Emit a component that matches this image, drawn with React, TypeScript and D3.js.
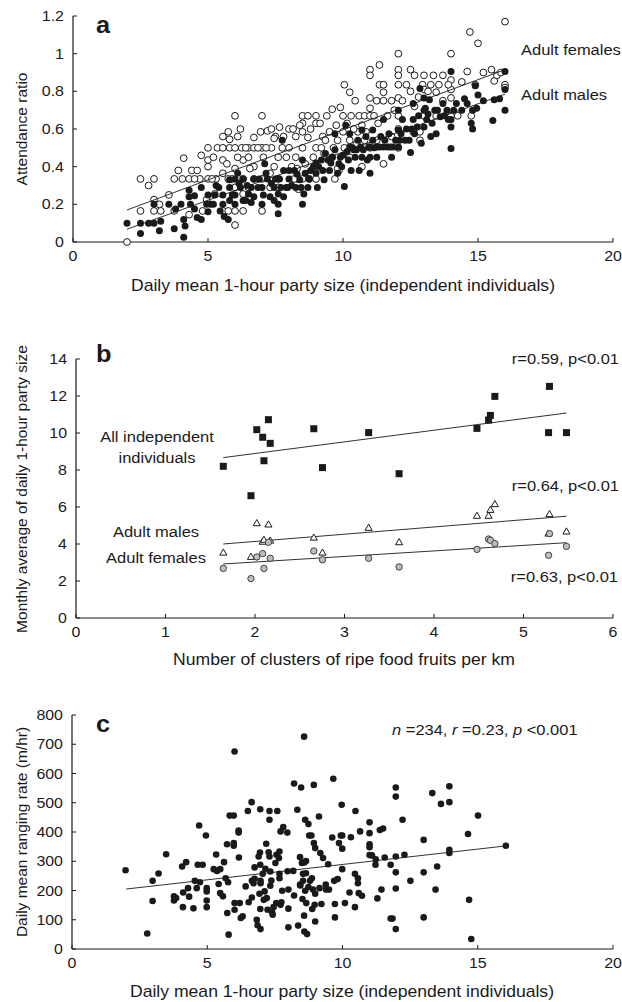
import React from 'react';
import * as d3 from 'd3';

// ---- panel a: attendance ratio vs party size ----
const femalesA: [number, number][] = [
  [2.0, 0.0], [2.5, 0.335], [2.8, 0.3], [3.0, 0.335], [3.0, 0.225], [3.0, 0.165], [2.5, 0.165], [3.25, 0.165],
  [3.2, 0.2], [3.55, 0.25], [3.75, 0.335], [3.9, 0.38], [4.1, 0.445], [4.05, 0.335], [4.3, 0.335], [4.4, 0.38],
  [4.3, 0.145], [4.6, 0.38], [4.7, 0.335], [4.75, 0.46], [5.0, 0.5], [5.0, 0.435], [5.0, 0.4], [5.0, 0.335],
  [4.95, 0.225], [4.8, 0.165], [5.3, 0.335], [5.35, 0.5], [5.55, 0.56], [5.55, 0.5], [5.55, 0.435], [5.55, 0.165],
  [5.75, 0.585], [5.8, 0.545], [5.8, 0.5], [5.7, 0.415], [5.75, 0.335], [5.75, 0.165], [6.0, 0.67], [6.0, 0.5],
  [6.0, 0.39], [6.0, 0.29], [6.0, 0.09], [6.0, 0.165], [6.2, 0.6], [6.25, 0.5], [6.3, 0.435], [6.3, 0.335],
  [6.3, 0.165], [6.5, 0.5], [6.5, 0.45], [6.7, 0.555], [6.7, 0.5], [6.7, 0.4], [6.95, 0.585], [7.0, 0.67],
  [7.0, 0.5], [7.0, 0.335], [7.0, 0.165], [7.2, 0.59], [7.35, 0.6], [7.35, 0.5], [7.5, 0.56], [7.6, 0.335],
  [7.65, 0.61], [7.75, 0.5], [8.0, 0.6], [8.0, 0.5], [8.1, 0.4], [8.35, 0.28], [8.25, 0.56], [8.5, 0.67],
  [8.5, 0.63], [8.5, 0.585], [8.5, 0.5], [8.5, 0.335], [8.7, 0.67], [8.7, 0.555], [8.75, 0.335], [9.0, 0.67],
  [9.0, 0.63], [9.0, 0.5], [9.0, 0.335], [9.25, 0.56], [9.5, 0.585], [9.6, 0.705], [9.65, 0.5], [9.7, 0.335],
  [9.9, 0.715], [10.0, 0.67], [10.05, 0.835], [10.0, 0.585], [10.05, 0.5], [9.85, 0.38], [10.25, 0.795], [10.3, 0.67],
  [10.45, 0.75], [10.55, 0.585], [10.6, 0.67], [10.8, 0.67], [10.85, 0.585], [11.0, 0.915], [11.0, 0.885], [11.0, 0.765],
  [11.0, 0.71], [11.0, 0.67], [11.0, 0.5], [11.35, 0.94], [11.35, 0.835], [11.5, 0.835], [11.5, 0.795], [11.25, 0.75],
  [11.5, 0.75], [11.5, 0.415], [11.8, 0.75], [12.05, 1.0], [12.05, 0.915], [12.05, 0.885], [12.05, 0.835], [12.05, 0.765],
  [12.05, 0.67], [12.05, 0.5], [12.05, 0.6], [12.35, 0.835], [12.5, 0.915], [12.65, 0.885], [12.65, 0.72], [12.95, 0.835],
  [13.0, 0.885], [13.0, 0.67], [13.0, 0.81], [13.25, 0.835], [13.35, 0.885], [13.45, 0.795], [13.7, 0.885], [13.7, 0.75],
  [14.0, 1.0], [14.0, 0.86], [14.0, 0.81], [14.0, 0.765], [14.0, 0.67], [14.25, 0.67], [14.7, 1.115], [14.6, 0.905],
  [14.75, 0.67], [14.9, 0.835], [15.0, 1.055], [15.5, 0.915], [15.6, 0.855], [15.7, 0.885], [16.0, 1.17], [16.0, 0.835],
  [16.0, 0.82], [12.85, 0.54], [12.85, 0.585], [13.45, 0.67], [12.6, 0.585], [3.75, 0.165], [7.6, 0.45], [7.9, 0.45],
  [8.25, 0.45], [8.9, 0.45], [9.3, 0.47], [9.6, 0.45], [8.3, 0.335], [7.45, 0.4], [6.7, 0.335], [6.5, 0.29],
  [7.6, 0.29], [8.3, 0.39], [8.6, 0.415], [9.35, 0.54], [9.8, 0.54], [10.25, 0.54], [10.5, 0.52], [10.8, 0.54],
  [11.25, 0.54], [11.8, 0.56], [10.7, 0.4], [10.25, 0.45], [9.8, 0.39], [6.1, 0.45], [6.55, 0.39], [7.05, 0.45],
  [7.3, 0.365], [5.55, 0.365], [5.25, 0.255], [6.3, 0.255],
  [4.5, 0.335], [5.15, 0.335], [5.9, 0.335], [6.4, 0.5], [6.85, 0.5], [7.15, 0.5], [7.45, 0.55], [7.8, 0.56],
  [8.15, 0.6], [8.4, 0.62], [8.8, 0.6], [9.15, 0.63], [9.4, 0.67], [9.75, 0.62], [10.15, 0.63], [10.4, 0.6],
  [10.7, 0.62], [11.15, 0.67], [11.3, 0.63], [11.65, 0.67], [11.9, 0.7], [12.2, 0.75], [12.5, 0.8], [12.8, 0.77],
  [13.15, 0.8], [13.55, 0.835], [13.9, 0.835], [14.4, 0.85], [15.2, 0.9], [15.85, 0.9], [9.2, 0.5], [8.2, 0.335],
  [7.3, 0.29], [6.1, 0.56], [5.2, 0.45],
];

const malesA: [number, number][] = [
  [2.0, 0.1], [2.5, 0.045], [2.5, 0.1], [2.8, 0.1], [3.0, 0.1], [3.0, 0.2], [3.2, 0.06], [3.25, 0.11],
  [3.55, 0.2], [3.75, 0.07], [3.8, 0.175], [4.0, 0.2], [4.1, 0.025], [4.15, 0.085], [4.3, 0.24], [4.3, 0.275],
  [4.35, 0.2], [4.5, 0.175], [4.5, 0.245], [4.75, 0.12], [4.75, 0.29], [4.95, 0.2], [5.0, 0.25], [5.25, 0.25],
  [5.3, 0.3], [5.45, 0.165], [5.55, 0.25], [5.6, 0.135], [5.75, 0.12], [5.8, 0.29], [5.8, 0.22], [6.0, 0.335],
  [6.0, 0.25], [6.0, 0.2], [6.2, 0.29], [6.3, 0.22], [6.3, 0.335], [6.5, 0.255], [6.6, 0.29], [6.7, 0.335],
  [7.0, 0.2], [7.0, 0.29], [7.1, 0.415], [7.2, 0.335], [7.3, 0.24], [7.45, 0.29], [7.45, 0.22], [7.6, 0.2],
  [7.65, 0.335], [7.75, 0.54], [7.8, 0.38], [7.9, 0.29], [8.0, 0.335], [8.2, 0.38], [8.25, 0.29], [8.5, 0.2],
  [8.55, 0.255], [8.7, 0.29], [8.75, 0.335], [8.9, 0.4], [9.0, 0.365], [9.2, 0.435], [9.3, 0.33], [9.5, 0.38],
  [9.6, 0.45], [9.7, 0.49], [9.85, 0.415], [10.0, 0.46], [10.05, 0.295], [10.1, 0.62], [10.25, 0.505], [10.3, 0.38],
  [10.45, 0.45], [10.55, 0.54], [10.6, 0.38], [10.75, 0.49], [10.85, 0.56], [11.0, 0.365], [11.0, 0.45], [11.0, 0.505],
  [11.1, 0.595], [11.25, 0.505], [11.4, 0.56], [11.5, 0.65], [11.65, 0.505], [11.8, 0.45], [11.95, 0.54], [12.05, 0.7],
  [12.05, 0.595], [12.05, 0.505], [12.2, 0.65], [12.3, 0.54], [12.5, 0.475], [12.6, 0.735], [12.6, 0.65], [12.65, 0.575],
  [12.85, 0.815], [13.0, 0.765], [13.0, 0.61], [13.05, 0.71], [13.2, 0.755], [13.25, 0.56], [13.4, 0.7], [13.45, 0.575],
  [13.7, 0.735], [13.85, 0.7], [14.0, 0.905], [14.0, 0.65], [14.0, 0.61], [14.0, 0.497], [14.2, 0.735], [14.6, 0.735],
  [14.75, 0.63], [14.8, 0.6], [14.9, 0.83], [14.95, 0.71], [15.0, 0.78], [15.55, 0.645], [15.6, 0.755], [16.0, 0.905],
  [16.0, 0.81], [16.0, 0.7], [6.4, 0.22], [6.7, 0.24], [6.85, 0.29], [7.6, 0.255], [7.8, 0.24], [7.95, 0.29],
  [8.4, 0.33], [8.6, 0.365], [9.05, 0.29], [9.45, 0.435], [9.8, 0.365], [9.95, 0.4], [10.2, 0.435], [10.4, 0.49],
  [10.7, 0.45], [10.9, 0.435], [11.25, 0.45], [11.5, 0.505], [11.85, 0.505], [12.15, 0.575], [12.45, 0.54], [12.75, 0.61],
  [12.9, 0.525], [13.1, 0.65], [13.3, 0.63], [13.6, 0.665], [13.9, 0.65], [14.4, 0.7], [14.8, 0.7], [7.6, 0.15],
  [5.55, 0.2], [5.1, 0.2], [5.8, 0.33], [6.1, 0.365], [7.15, 0.365], [8.5, 0.435], [9.35, 0.47], [9.7, 0.575],
  [10.25, 0.575], [10.7, 0.595], [11.1, 0.54], [11.7, 0.575],
  [5.2, 0.2], [5.4, 0.29], [5.9, 0.25], [6.15, 0.31], [6.45, 0.3], [6.9, 0.335], [7.05, 0.25], [7.35, 0.31],
  [7.5, 0.335], [7.7, 0.29], [8.1, 0.3], [8.3, 0.36], [8.45, 0.29], [8.8, 0.38], [9.1, 0.4], [9.25, 0.38],
  [9.55, 0.42], [9.9, 0.45], [10.15, 0.48], [10.35, 0.5], [10.5, 0.49], [10.65, 0.505], [10.95, 0.505], [11.15, 0.5],
  [11.35, 0.505], [11.55, 0.54], [11.75, 0.505], [12.1, 0.54], [12.35, 0.6], [12.55, 0.6], [12.8, 0.67], [13.0, 0.7],
  [13.15, 0.68], [13.5, 0.7], [13.75, 0.67], [14.1, 0.7], [14.5, 0.76], [15.2, 0.75], [15.8, 0.76], [9.0, 0.42],
  [8.0, 0.38], [6.6, 0.21], [5.0, 0.16], [4.6, 0.13], [4.1, 0.12],
];

const fitFemalesA: [number, number][] = [[2, 0.17], [16, 0.915]];
const fitMalesA: [number, number][] = [[2, 0.068], [16, 0.785]];

// ---- panel b: monthly party size vs fruit clusters ----
const fruitX = [1.646, 2.02, 2.15, 2.086, 2.17, 2.1, 1.955, 2.657, 2.754, 3.27, 3.61, 4.48, 4.61, 4.63, 4.68, 5.29, 5.28, 5.48];
const allIndiv = [8.2, 10.18, 10.72, 9.77, 9.44, 8.5, 6.61, 10.23, 8.13, 10.02, 7.8, 10.25, 10.7, 10.95, 11.98, 12.52, 10.02, 10.02];
const adultMales = [3.51, 5.1, 5.03, 4.1, 4.16, 4.2, 3.28, 4.32, 3.51, 4.85, 4.07, 5.5, 5.5, 5.82, 6.13, 5.59, 4.54, 4.65];
const adultFemales = [2.68, 3.3, 4.09, 3.48, 3.23, 2.68, 2.13, 3.62, 3.15, 3.23, 2.76, 3.71, 4.27, 4.2, 4.02, 4.56, 3.39, 3.87];
const fitAll: [number, number][] = [[1.646, 8.67], [5.48, 11.08]];
const fitMales: [number, number][] = [[1.646, 4.0], [5.48, 5.5]];
const fitFemales: [number, number][] = [[1.646, 2.92], [5.48, 4.07]];

// ---- panel c: ranging rate vs party size ----
const rangingC: [number, number][] = [
  [1.98, 269], [2.78, 53], [2.98, 233], [2.98, 164], [3.2, 258], [3.48, 324], [3.77, 180], [3.77, 166],
  [3.85, 174], [4.07, 282], [4.22, 297], [4.11, 193], [4.29, 208], [4.1, 143], [4.33, 179], [4.49, 139],
  [4.54, 233], [4.61, 208], [4.65, 288], [4.7, 422], [4.73, 228], [4.83, 288], [4.95, 388], [4.98, 208],
  [4.98, 197], [4.98, 166], [4.98, 143], [5.24, 273], [5.33, 323], [5.36, 267], [5.42, 222], [5.48, 273],
  [5.48, 191], [5.58, 180], [5.62, 297], [5.68, 242], [5.73, 358], [5.74, 123], [5.77, 228], [5.79, 49],
  [5.83, 456], [5.98, 456], [5.98, 362], [5.98, 353], [6.01, 675], [6.01, 157], [6.01, 134], [6.16, 405],
  [6.16, 398], [6.17, 313], [6.2, 157], [6.24, 106], [6.31, 112], [6.42, 214], [6.5, 472], [6.53, 160],
  [6.64, 502], [6.65, 233], [6.65, 176], [6.71, 225], [6.75, 279], [6.75, 240], [6.83, 100], [6.86, 81],
  [6.9, 316], [6.93, 189], [6.95, 330], [6.96, 288], [6.96, 478], [6.96, 137], [6.97, 68], [6.97, 233],
  [6.97, 225], [7.05, 257], [7.09, 168], [7.12, 197], [7.15, 274], [7.18, 360], [7.2, 174], [7.23, 134],
  [7.27, 331], [7.3, 472], [7.3, 442], [7.3, 316], [7.33, 265], [7.33, 216], [7.37, 234], [7.4, 125],
  [7.42, 117], [7.45, 143], [7.52, 294], [7.55, 157], [7.56, 322], [7.59, 472], [7.65, 311], [7.67, 242],
  [7.67, 333], [7.67, 257], [7.71, 402], [7.71, 151], [7.74, 160], [7.77, 199], [7.81, 417], [7.96, 398],
  [7.97, 266], [8.0, 138], [8.0, 74], [8.0, 203], [8.18, 267], [8.21, 566], [8.21, 183], [8.33, 476],
  [8.36, 80], [8.43, 314], [8.43, 220], [8.44, 217], [8.47, 552], [8.5, 294], [8.52, 171], [8.54, 233],
  [8.54, 257], [8.58, 114], [8.58, 726], [8.59, 296], [8.59, 60], [8.62, 199], [8.62, 442], [8.65, 259],
  [8.65, 301], [8.66, 157], [8.69, 51], [8.74, 427], [8.74, 212], [8.77, 388], [8.8, 233], [8.85, 388],
  [8.87, 242], [8.88, 137], [8.91, 203], [8.94, 561], [8.94, 362], [8.97, 151], [8.99, 189], [8.99, 94],
  [8.99, 345], [9.13, 453], [9.15, 208], [9.18, 328], [9.22, 154], [9.28, 311], [9.38, 220], [9.39, 203],
  [9.47, 290], [9.5, 203], [9.62, 381], [9.66, 582], [9.69, 233], [9.72, 108], [9.72, 154], [9.82, 239],
  [9.87, 362], [9.94, 388], [9.97, 493], [9.99, 388], [9.99, 343], [9.99, 273], [10.09, 157], [10.26, 193],
  [10.31, 382], [10.46, 143], [10.46, 257], [10.48, 472], [10.57, 242], [10.57, 225], [10.6, 191], [10.65, 402],
  [10.72, 182], [11.0, 433], [11.0, 396], [11.0, 358], [11.0, 348], [11.0, 321], [11.09, 320], [11.22, 288],
  [11.23, 307], [11.29, 173], [11.38, 407], [11.44, 203], [11.5, 412], [11.56, 313], [11.78, 288], [11.78, 104],
  [11.85, 104], [11.97, 552], [11.97, 521], [11.97, 316], [11.97, 262], [11.97, 207], [11.97, 68], [12.22, 442],
  [12.29, 322], [12.51, 233], [13.0, 373], [13.0, 262], [13.0, 108], [13.32, 533], [13.44, 203], [13.5, 282],
  [13.64, 496], [13.95, 556], [13.95, 502], [13.95, 339], [13.95, 328], [14.64, 393], [14.68, 168], [14.76, 34],
  [15.01, 456], [16.04, 353],
];
const fitC: [number, number][] = [[2, 205], [16, 352]];

const ticksA = [0, 0.2, 0.4, 0.6, 0.8, 1, 1.2];
const ticksPartyX = [0, 5, 10, 15, 20];
const ticksBY = [0, 2, 4, 6, 8, 10, 12, 14];
const ticksBX = [0, 1, 2, 3, 4, 5, 6];
const ticksCY = [0, 100, 200, 300, 400, 500, 600, 700, 800];

const FONT = '"Liberation Sans", Arial, Helvetica, sans-serif';
const INK = '#1a1a1a';
const SX = 1.1; // the scanned figure is slightly stretched horizontally

type Sc = d3.ScaleLinear<number, number>;

function T({ x, y, anchor = 'start', size = 15, sx = SX, children, weight }: any) {
  return (
    <text transform={`translate(${x},${y}) scale(${sx},1)`} textAnchor={anchor} fontSize={size} fontWeight={weight}>
      {children}
    </text>
  );
}

function Axes({ x, y, xt, yt }: { x: Sc; y: Sc; xt: number[]; yt: number[] }) {
  const [x0, x1] = x.range();
  const [y0, y1] = y.range();
  return (
    <g fontFamily={FONT} fill={INK}>
      <line x1={x0} x2={x1} y1={y0} y2={y0} stroke={INK} strokeWidth={1.2} />
      <line x1={x0} x2={x0} y1={y0} y2={y1} stroke={INK} strokeWidth={1.2} />
      {xt.map((t) => (
        <g key={'x' + t}>
          <line x1={x(t)} x2={x(t)} y1={y0} y2={y0 - 4} stroke={INK} />
          <T x={x(t)} y={y0 + 19} anchor="middle" size={15.5} sx={1.03}>{t}</T>
        </g>
      ))}
      {yt.map((t) => (
        <g key={'y' + t}>
          <line x1={x0} x2={x0 + 4} y1={y(t)} y2={y(t)} stroke={INK} />
          <T x={x0 - 9} y={y(t) + 5} anchor="end" size={15.5} sx={1.03}>{t}</T>
        </g>
      ))}
    </g>
  );
}

export default function App() {
  // panel a
  const xa = d3.scaleLinear().domain([0, 20]).range([73, 613]);
  const ya = d3.scaleLinear().domain([0, 1.2]).range([242, 16]);
  // panel b
  const xb = d3.scaleLinear().domain([0, 6]).range([76, 613]);
  const yb = d3.scaleLinear().domain([0, 14]).range([618, 359]);
  // panel c
  const xc = d3.scaleLinear().domain([0, 20]).range([72, 613]);
  const yc = d3.scaleLinear().domain([0, 800]).range([949, 715]);

  const lineA = d3.line<[number, number]>().x((d) => xa(d[0])).y((d) => ya(d[1]));
  const lineB = d3.line<[number, number]>().x((d) => xb(d[0])).y((d) => yb(d[1]));
  const lineC = d3.line<[number, number]>().x((d) => xc(d[0])).y((d) => yc(d[1]));
  const tri = d3.symbol(d3.symbolTriangle, 22)();

  return (
    <svg width={622} height={1002} style={{ position: 'absolute', left: 0, top: 0, background: '#fff' }}>
      {/* ---------- a ---------- */}
      <Axes x={xa} y={ya} xt={ticksPartyX} yt={ticksA} />
      {femalesA.map((d, i) => (
        <circle key={'f' + i} cx={xa(d[0])} cy={ya(d[1])} r={3.4} fill="#fff" stroke={INK} strokeWidth={1} />
      ))}
      {malesA.map((d, i) => (
        <circle key={'m' + i} cx={xa(d[0])} cy={ya(d[1])} r={3.5} fill={INK} />
      ))}
      <path d={lineA(fitFemalesA) || ''} stroke={INK} fill="none" strokeWidth={0.9} />
      <path d={lineA(fitMalesA) || ''} stroke={INK} fill="none" strokeWidth={0.9} />
      <g fontFamily={FONT} fill={INK}>
        <T x={96} y={33} size={23} weight="bold">a</T>
        <T x={521} y={55}>Adult females</T>
        <T x={521} y={100}>Adult males</T>
        <T x={343} y={291} anchor="middle" size={16}>Daily mean 1-hour party size (independent individuals)</T>
        <text transform="translate(27,129) rotate(-90)" textAnchor="middle" fontSize={15.5}>Attendance ratio</text>
      </g>

      {/* ---------- b ---------- */}
      <Axes x={xb} y={yb} xt={ticksBX} yt={ticksBY} />
      <path d={lineB(fitAll) || ''} stroke={INK} fill="none" strokeWidth={0.9} />
      <path d={lineB(fitMales) || ''} stroke={INK} fill="none" strokeWidth={0.9} />
      <path d={lineB(fitFemales) || ''} stroke={INK} fill="none" strokeWidth={0.9} />
      {fruitX.map((fx, i) => (
        <rect key={'s' + i} x={xb(fx) - 3.5} y={yb(allIndiv[i]) - 3.5} width={7} height={7} fill={INK} />
      ))}
      {fruitX.map((fx, i) => (
        <path key={'t' + i} d={tri || ''} transform={`translate(${xb(fx)},${yb(adultMales[i])})`} fill="#fff" stroke={INK} strokeWidth={1} />
      ))}
      {fruitX.map((fx, i) => (
        <circle key={'g' + i} cx={xb(fx)} cy={yb(adultFemales[i])} r={3.2} fill="#bdbdbd" stroke="#333" strokeWidth={0.9} />
      ))}
      <g fontFamily={FONT} fill={INK}>
        <T x={96} y={362} size={23} weight="bold">b</T>
        <T x={157} y={442} anchor="middle">All independent</T>
        <T x={157} y={463} anchor="middle">individuals</T>
        <T x={156} y={537} anchor="middle">Adult males</T>
        <T x={156} y={563} anchor="middle">Adult females</T>
        <T x={619} y={364} anchor="end">r=0.59, p&lt;0.01</T>
        <T x={619} y={491} anchor="end">r=0.64, p&lt;0.01</T>
        <T x={618} y={582} anchor="end">r=0.63, p&lt;0.01</T>
        <T x={344} y={665} anchor="middle" size={16}>Number of clusters of ripe food fruits per km</T>
        <text transform="translate(27,489) rotate(-90)" textAnchor="middle" fontSize={15.5}>Monthly average of daily 1-hour party size</text>
      </g>

      {/* ---------- c ---------- */}
      <Axes x={xc} y={yc} xt={ticksPartyX} yt={ticksCY} />
      {rangingC.map((d, i) => (
        <circle key={'c' + i} cx={xc(d[0])} cy={yc(d[1])} r={3.3} fill={INK} />
      ))}
      <path d={lineC(fitC) || ''} stroke={INK} fill="none" strokeWidth={0.9} />
      <g fontFamily={FONT} fill={INK}>
        <T x={96} y={732} size={23} weight="bold">c</T>
        <T x={392} y={735}>
          <tspan fontStyle="italic">n</tspan> =234, <tspan fontStyle="italic">r</tspan> =0.23, <tspan fontStyle="italic">p</tspan> &lt;0.001
        </T>
        <T x={342} y={997} anchor="middle" size={16}>Daily mean 1-hour party size (independent individuals)</T>
        <text transform="translate(27,832) rotate(-90)" textAnchor="middle" fontSize={15.5}>Daily mean ranging rate (m/hr)</text>
      </g>
    </svg>
  );
}
